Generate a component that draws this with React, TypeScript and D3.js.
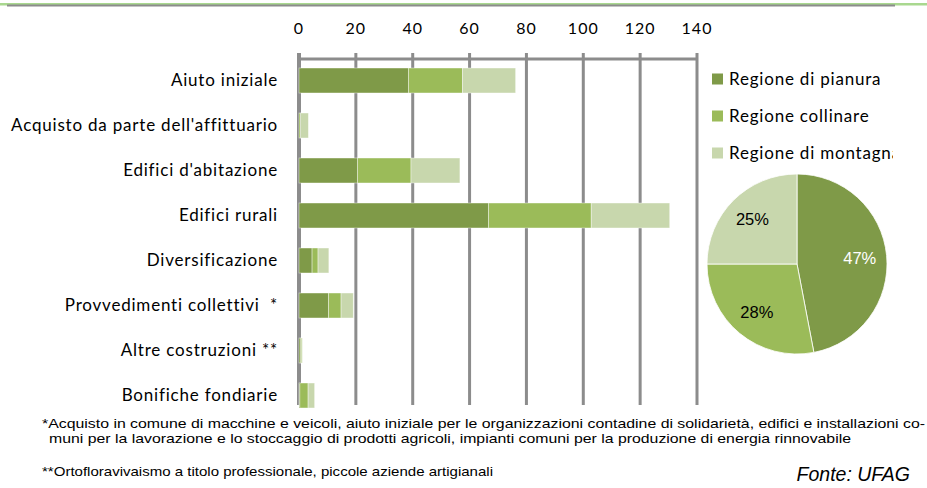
import * as d3 from 'd3'

const categories = [
  'Aiuto iniziale',
  "Acquisto da parte dell'affittuario",
  "Edifici d'abitazione",
  'Edifici rurali',
  'Diversificazione',
  'Provvedimenti collettivi  *',
  'Altre costruzioni **',
  'Bonifiche fondiarie',
]
const series = ['Regione di pianura', 'Regione collinare', 'Regione di montagna']
const pianura = [38.5, 0, 20.6, 66.7, 4.6, 10.4, 0.5, 0.3]
const collinare = [19, 0.5, 18.8, 36.1, 2.1, 4.4, 0.5, 2.9]
const montagna = [18.7, 2.8, 17.2, 27.6, 3.8, 4.3, 0.2, 2.3]
const pieShares = [47, 28, 25]
const ticks = [0, 20, 40, 60, 80, 100, 120, 140]
const colors = ['#7f9a48', '#9bbb59', '#c8d7ad']

const notes = [
  '*Acquisto in comune di macchine e veicoli, aiuto iniziale per le organizzazioni contadine di solidarietà, edifici e installazioni co-',
  'muni per la lavorazione e lo stoccaggio di prodotti agricoli, impianti comuni per la produzione di energia rinnovabile',
  '**Ortofloravivaismo a titolo professionale, piccole aziende artigianali',
]

const W = 927
const H = 488

export default function App() {
  const x = d3.scaleLinear().domain([0, 140]).range([299, 697])
  const y = d3.scaleBand().domain(categories).range([58, 418]).paddingInner(0.445).paddingOuter(0.2225)

  const rows = categories.map((c, i) => ({ cat: c, pianura: pianura[i], collinare: collinare[i], montagna: montagna[i] }))
  const stack = d3.stack().keys(['pianura', 'collinare', 'montagna'])(rows as any)

  const pie = d3.pie<number>().sort(null).value(d => d)(pieShares)
  const arc = d3.arc<any>().innerRadius(0).outerRadius(90)
  const labelArc = d3.arc<any>().innerRadius(63).outerRadius(63)
  const cx = 797, cy = 264

  const labelFont = 'Lato, "Open Sans", sans-serif'
  const narrow = '"Liberation Sans Narrow", "Arial Narrow", "Liberation Sans", sans-serif'

  return (
    <svg width={W} height={H} style={{ position: 'absolute', left: 0, top: 0, background: '#fff' }}>
      <defs>
        <clipPath id="legclip"><rect x={700} y={60} width={193} height={110} /></clipPath>
      </defs>
      {/* top rule */}
      <rect x={0} y={3} width={W} height={2.5} fill="#a9d88f" />
      <rect x={7} y={4.5} width={888} height={2} fill="#8c8c8c" />

      {/* axis ticks + gridlines */}
      {ticks.map(t => (
        <g key={t}>
          <line x1={x(t)} x2={x(t)} y1={53} y2={405} stroke="#8c8c8c" strokeWidth={t === 0 ? 4 : 3} />
          <text x={x(t)} y={28} dy="0.35em" textAnchor="middle" fontFamily={labelFont} fontSize={16}
            letterSpacing={1} fill="#000">{t}</text>
        </g>
      ))}
      <line x1={x(0)} x2={x(140)} y1={59} y2={59} stroke="#8c8c8c" strokeWidth={3} />

      {/* bars */}
      {stack.map((s, si) => (
        <g key={si} fill={colors[si]}>
          {s.map((d, i) => (
            d[1] - d[0] > 0 ? (
              <rect key={i} x={x(d[0])} y={y(categories[i])} width={x(d[1]) - x(d[0])} height={y.bandwidth()}
                stroke="#ffffff" strokeOpacity={0.5} strokeWidth={0.8} />
            ) : null
          ))}
        </g>
      ))}

      {/* category labels */}
      {categories.map(c => (
        <text key={c} x={278} y={(y(c) as number) + y.bandwidth() / 2} dy="0.35em" textAnchor="end"
          fontFamily={labelFont} fontSize={17} letterSpacing={0.8} fill="#000" style={{ whiteSpace: 'pre' }}>{c}</text>
      ))}

      {/* legend */}
      <g clipPath="url(#legclip)">
        {series.map((s, i) => (
          <g key={s} transform={`translate(712,${79 + i * 37})`}>
            <rect x={0} y={-5.5} width={11} height={11} fill={colors[i]} />
            <text x={17} y={0} dy="0.35em" fontFamily={labelFont} fontSize={17} letterSpacing={0.8} fill="#000">{s}</text>
          </g>
        ))}
      </g>

      {/* pie */}
      <g transform={`translate(${cx},${cy})`}>
        {pie.map((p, i) => (
          <path key={i} d={arc(p) as string} fill={colors[i]} stroke="#fff" strokeWidth={0.8} />
        ))}
        {pie.map((p, i) => {
          const [lx, ly] = labelArc.centroid(p)
          return (
            <text key={'l' + i} x={lx} y={ly} dy="0.35em" textAnchor="middle" fontFamily='"Liberation Sans", Arial, sans-serif'
              fontSize={16.5} fill={i === 0 ? '#fff' : '#000'}>{p.data}%</text>
          )
        })}
      </g>

      {/* footnotes */}
      <text x={42} y={428} fontFamily={narrow} fontSize={13.5} textLength={883} lengthAdjust="spacingAndGlyphs">{notes[0]}</text>
      <text x={49} y={443} fontFamily={narrow} fontSize={13.5} textLength={802} lengthAdjust="spacingAndGlyphs">{notes[1]}</text>
      <text x={42} y={476} fontFamily={narrow} fontSize={13.5} textLength={451} lengthAdjust="spacingAndGlyphs">{notes[2]}</text>
      <text x={910} y={481} textAnchor="end" fontFamily='"Liberation Sans", Arial, sans-serif' fontStyle="italic" fontSize={19.5}>Fonte: UFAG</text>
    </svg>
  )
}
